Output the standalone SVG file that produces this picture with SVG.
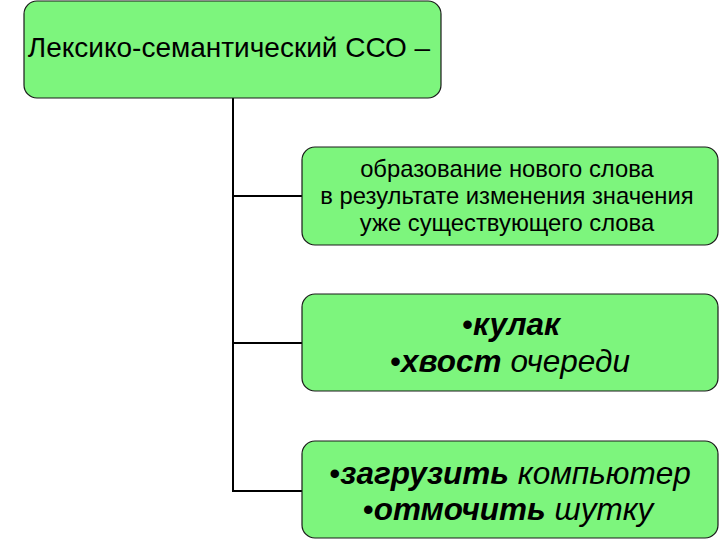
<svg xmlns="http://www.w3.org/2000/svg" width="720" height="540" viewBox="0 0 720 540">
<style>
.box{fill:#7df57d;stroke:#1a1a1a;stroke-width:1.2}
.t{font-family:"Liberation Sans",Arial,sans-serif;fill:#000;text-anchor:middle}
.b{font-weight:bold;font-style:italic}
.i{font-style:italic}
.ln{stroke:#000;stroke-width:2;fill:none}
</style>
<rect width="720" height="540" fill="#fff"/>
<g id="connectors">
<path class="ln" d="M233,98 V491 H302 M233,196 H302 M233,343 H302"/>
</g>
<g id="n1">
<rect class="box" x="24" y="1" width="417" height="97" rx="13"/>
<text class="t" x="229" y="57" font-size="28">Лексико-семантический ССО –</text>
</g>
<g id="n2">
<rect class="box" x="302" y="147" width="416" height="98" rx="13"/>
<text class="t" font-size="23.8"><tspan x="507" y="177">образование нового слова</tspan><tspan x="507" y="204">в результате изменения значения</tspan><tspan x="507" y="231">уже существующего слова</tspan></text>
</g>
<g id="n3">
<rect class="box" x="302" y="294" width="416" height="97" rx="13"/>
<text class="t" font-size="31.5"><tspan x="511" y="335">•<tspan class="b">кулак</tspan></tspan><tspan x="510" y="372">•<tspan class="b">хвост</tspan> <tspan class="i">очереди</tspan></tspan></text>
</g>
<g id="n4">
<rect class="box" x="302" y="441" width="416" height="97" rx="13"/>
<text class="t" font-size="31.5"><tspan x="510" y="484">•<tspan class="b">загрузить</tspan> <tspan class="i">компьютер</tspan></tspan><tspan x="508" y="520">•<tspan class="b">отмочить</tspan> <tspan class="i">шутку</tspan></tspan></text>
</g>
</svg>
